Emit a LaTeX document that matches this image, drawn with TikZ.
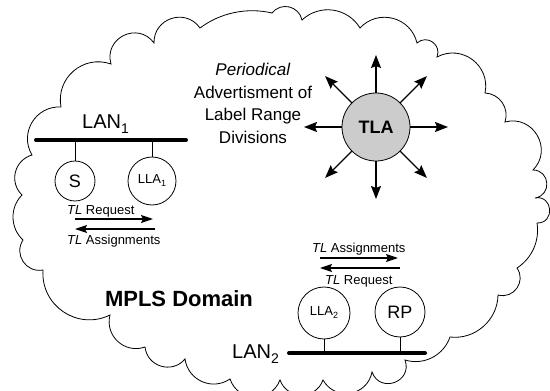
\documentclass[tikz,border=0pt]{standalone}
\usepackage{fontspec}
\setmainfont{Liberation Sans}
\usetikzlibrary{arrows.meta,calc}
\newcommand\lowsub[3]{\raisebox{-#1pt}{\fontsize{#2}{#2}\selectfont #3}}
\begin{document}
\begin{tikzpicture}[x=1pt,y=-1pt,
  cl/.style={line width=0.8pt},
  unit/.style={circle,draw,line width=0.8pt,inner sep=0pt},
  bar/.style={line width=4pt,line cap=round},
  arr/.style={line width=1.4pt,-{Stealth[length=13pt,width=10pt,inset=2pt]}},
  sarr/.style={line width=1.2pt,-{Stealth[length=12pt,width=8pt,inset=2pt]}},
  lbl/.style={inner sep=0pt,font=\fontsize{13}{15}\selectfont},
]
\useasboundingbox (0,0) rectangle (550,391);
\begin{scope}
\clip (0,0) rectangle (550,391);
\draw[cl] (61,107) to[bend left=60,looseness=1.14] (111,64)
 to[bend left=80,looseness=1.45] (154,43)
 to[bend left=73,looseness=1.32] (200,28)
 to[bend left=25,looseness=0.89] (272,13)
 to[bend left=65,looseness=1.2] (302,20)
 to[bend left=51,looseness=1.05] (360,28)
 to[bend left=62,looseness=1.16] (417,43)
 to[bend left=77,looseness=1.39] (437,57)
 to[bend left=65,looseness=1.2] (485,93)
 to[bend left=53,looseness=1.06] (505,122)
 to[bend left=75,looseness=1.34] (533,170)
 to[bend left=85,looseness=1.57] (535,198)
 to[bend left=96,looseness=1.88] (537,223)
 to[bend left=33,looseness=0.93] (517,268)
 to[bend left=70,looseness=1.27] (498,295)
 to[bend left=48,looseness=1.01] (450,337)
 to[bend left=44,looseness=0.99] (405,360)
 to[bend left=90,looseness=1.7] (372,372)
 to[bend left=70,looseness=1.27] (323,380)
 to[bend left=70,looseness=1.27] (280,380)
 to[bend left=70,looseness=1.27] (230,379)
 to[bend left=58,looseness=1.12] (185,359)
 to[bend left=67,looseness=1.22] (145,347)
 to[bend left=62,looseness=1.16] (110,315)
 to[bend left=60,looseness=1.14] (43,270)
 to[bend left=67,looseness=1.22] (23,240)
 to[bend left=46,looseness=1.0] (22,195)
 to[bend left=60,looseness=1.14] (32,155)
 to[bend left=62,looseness=1.16] (61,107);
\end{scope}

% LAN 1
\coordinate (lan1a) at (36,140);
\coordinate (lan1b) at (186,140);
\draw[bar] (lan1a) -- (lan1b);
\node[anchor=base west,inner sep=0pt,font=\fontsize{20}{24}\selectfont] (lan1) at (82,128) {LAN\lowsub{5}{14}{1}};
\node[unit,minimum size=40pt,font=\fontsize{18}{20}\selectfont] (S) at (75,181) {S};
\node[unit,minimum size=48pt,font=\fontsize{13}{15}\selectfont] (lla1) at (152,181) {LLA\lowsub{3}{9}{1}};
\draw[cl] (S.north) -- (S.north |- lan1a);
\draw[cl] (lla1.north) -- (lla1.north |- lan1a);

\coordinate (r1a) at (75,219);
\coordinate (r1b) at (153,219);
\draw[sarr] (r1a) -- (r1b);
\coordinate (a1a) at (155,229);
\coordinate (a1b) at (75,229);
\draw[sarr] (a1a) -- (a1b);
\node[lbl,anchor=base west] (req1) at (67,214.5) {\textit{TL} Request};
\node[lbl,anchor=base west] (asg1) at (67,244) {\textit{TL} Assignments};

% TLA
\node[unit,fill=black!20,minimum size=68pt,font=\bfseries\fontsize{18}{20}\selectfont] (tla) at (376,127) {TLA};
\foreach \a in {0,45,...,315} \draw[arr] (tla.\a) -- ($(tla.center)+(\a:72pt)$);

\node[align=center,inner sep=0pt,font=\fontsize{17}{22.5}\selectfont] (per) at (253,103.5) {\textit{Periodical}\\Advertisment of\\Label Range\\Divisions};

\node[font=\bfseries\fontsize{22}{26}\selectfont,inner sep=0pt] (mpls) at (179,298.5) {MPLS Domain};

% LAN 2
\coordinate (lan2a) at (289,353);
\coordinate (lan2b) at (425,353);
\draw[bar] (lan2a) -- (lan2b);
\node[anchor=base west,inner sep=0pt,font=\fontsize{20}{24}\selectfont] (lan2) at (232,358) {LAN\lowsub{5}{14}{2}};
\node[unit,minimum size=52pt,font=\fontsize{13}{15}\selectfont] (lla2) at (324,313) {LLA\lowsub{3}{9}{2}};
\node[unit,minimum size=50pt,font=\fontsize{18}{20}\selectfont] (rp) at (400,312) {RP};
\draw[cl] (lla2.south) -- (lla2.south |- lan2a);
\draw[cl] (rp.south) -- (rp.south |- lan2a);

\coordinate (a2a) at (320,258);
\coordinate (a2b) at (398,258);
\draw[sarr] (a2a) -- (a2b);
\coordinate (r2a) at (400,268);
\coordinate (r2b) at (320,268);
\draw[sarr] (r2a) -- (r2b);
\node[lbl,anchor=base west] (asg2) at (312,252) {\textit{TL} Assignments};
\node[lbl,anchor=base west] (req2) at (325,284) {\textit{TL} Request};
\end{tikzpicture}
\end{document}
